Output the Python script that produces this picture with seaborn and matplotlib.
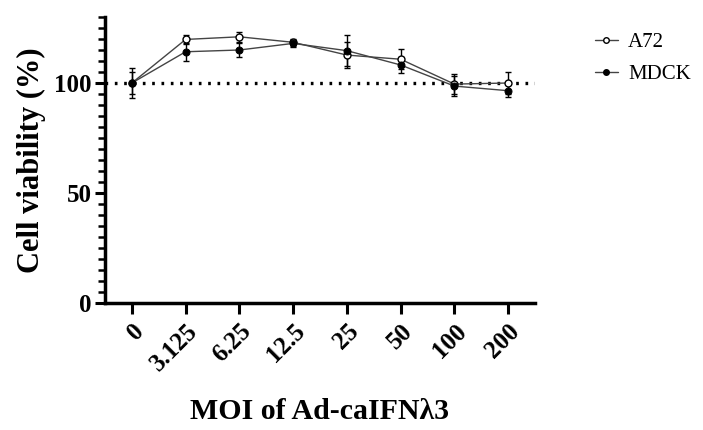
import matplotlib
matplotlib.use("Agg")
import matplotlib.pyplot as plt
import matplotlib.transforms as mtransforms
import seaborn as sns
import pandas as pd
import numpy as np
from matplotlib.ticker import MultipleLocator
from matplotlib.lines import Line2D

moi_labels = ["0", "3.125", "6.25", "12.5", "25", "50", "100", "200"]
a72_mean = [100, 119.8, 121.0, 118.5, 112.7, 110.8, 99.5, 100.0]
a72_sd = [7.0, 2.2, 2.3, 1.5, 6.0, 4.5, 4.5, 5.0]
mdck_mean = [100, 114.2, 115.0, 118.0, 114.7, 108.2, 98.6, 96.5]
mdck_sd = [5.0, 4.0, 3.0, 1.5, 7.0, 3.5, 4.5, 3.0]

sns.set_style("ticks")
plt.rcParams['font.family'] = ['Liberation Serif', 'DejaVu Serif']
plt.rcParams['text.color'] = 'black'
plt.rcParams['axes.labelcolor'] = 'black'
plt.rcParams['xtick.color'] = 'black'
plt.rcParams['ytick.color'] = 'black'

pos = np.arange(len(moi_labels))
df = pd.concat([
    pd.DataFrame({"pos": pos, "val": a72_mean, "sd": a72_sd, "line": "A72"}),
    pd.DataFrame({"pos": pos, "val": mdck_mean, "sd": mdck_sd, "line": "MDCK"}),
])

fig = plt.figure(figsize=(7.03, 4.30), dpi=100)
ax = fig.add_axes([105/703, 1 - 303/430, (535-105)/703, (303-17)/430])

ax.axhline(100, color="black", lw=2.4, ls=(0, (0.8, 2.0)), zorder=1)

for name in ["A72", "MDCK"]:
    sub = df[df.line == name]
    ax.errorbar(sub["pos"], sub["val"], yerr=sub["sd"], fmt="none",
                ecolor="black", elinewidth=1.0, capsize=2, capthick=1.0, zorder=2)

sns.lineplot(data=df, x="pos", y="val", hue="line", style="line",
             palette={"A72": "#444444", "MDCK": "#444444"},
             markers={"A72": "o", "MDCK": "o"}, dashes=False,
             lw=1.0, markersize=5, ax=ax, zorder=3, legend=False)
for ln in ax.lines:
    yd = list(ln.get_ydata())
    if yd == a72_mean:
        ln.set_markerfacecolor("white"); ln.set_markeredgecolor("black")
        ln.set_markeredgewidth(1.0)
    elif yd == mdck_mean:
        ln.set_markerfacecolor("black"); ln.set_markeredgecolor("black")

handles = [Line2D([0], [0], color="#444444", lw=1.0, marker="o", markersize=4,
                  markerfacecolor="white", markeredgecolor="black"),
           Line2D([0], [0], color="#444444", lw=1.0, marker="o", markersize=4,
                  markerfacecolor="black", markeredgecolor="black")]
fig.legend(handles, ["A72", "MDCK"], loc="upper left",
           bbox_to_anchor=(576/703, 1 - 14/430), frameon=False,
           prop={"family": "Liberation Serif", "size": 15},
           handlelength=1.1, labelspacing=0.6, handletextpad=0.5)

ax.set_xlim(-0.5, 7.5)
ax.set_ylim(0, 130)
ax.set_xticks(pos)
ax.set_xticklabels(moi_labels, rotation=45, ha="right", rotation_mode="anchor",
                   fontsize=18, fontweight="bold")
offset = mtransforms.ScaledTranslation(7/100, -9/100, fig.dpi_scale_trans)
for lbl in ax.get_xticklabels():
    lbl.set_transform(lbl.get_transform() + offset)
ax.set_yticks([0, 50, 100])
ax.set_yticklabels(["0", "50", "100"], fontsize=18, fontweight="bold")
ax.yaxis.set_minor_locator(MultipleLocator(5))
ax.tick_params(axis="y", which="major", length=7.5, width=2.2, direction="out", pad=2)
ax.tick_params(axis="y", which="minor", length=5, width=1.8, direction="out")
ax.tick_params(axis="x", which="major", length=8, width=2.2, direction="out", pad=4)
for s in ["top", "right"]:
    ax.spines[s].set_visible(False)
for s in ["left", "bottom"]:
    ax.spines[s].set_linewidth(2.5)
    ax.spines[s].set_color("black")

ax.set_xlabel("MOI of Ad-caIFNλ3", fontsize=21.5, fontweight="bold", labelpad=16)
ax.set_ylabel("Cell viability (%)", fontsize=22, fontweight="bold", labelpad=6)

fig.savefig("out.png", dpi=100)
